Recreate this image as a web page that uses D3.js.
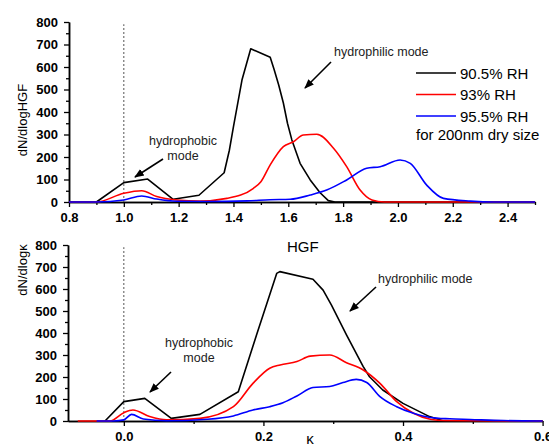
<!DOCTYPE html>
<html>
<head>
<meta charset="utf-8">
<script src="https://cdn.jsdelivr.net/npm/d3@7"></script>
<style>
    body { margin: 0; background: #fff; }
    svg { font-family: "Liberation Sans", Arial, sans-serif; }
    .axis .domain { stroke: #000; stroke-width: 1.5; }
    .axis line { stroke: #000; stroke-width: 1.3; }
    .axis text { font-size: 13px; font-weight: bold; fill: #000; }
    .note { font-size: 12.5px; fill: #222; }
</style>
</head>
<body>
<svg class="chart" width="549" height="445"></svg>
<script>
// series names
const seriesNames = ["90.5% RH", "93% RH", "95.5% RH"];
const seriesColors = ["#000000", "#ff0000", "#0000ff"];

// top panel: [HGF, dN/dlogHGF]
const hgf905 = [[0.8,0],[0.9,0],[1.0,86],[1.087,102],[1.18,12],[1.274,30],[1.366,130],[1.385,230],[1.40,335],[1.431,542],
    [1.463,681],[1.534,643],[1.548,590],[1.565,520],[1.582,440],[1.597,350],[1.613,276],[1.643,172],[1.68,98],[1.716,41],
    [1.746,6],[1.77,0],[2.5,0]];
const hgf93 = [[0.8,0],[0.9,0],[1.0,39],[1.065,50],[1.12,24],[1.193,9],[1.278,4],[1.376,16],[1.473,61],[1.50,90],
    [1.534,165],[1.582,246],[1.619,268],[1.655,298],[1.704,301],[1.765,239],[1.813,157],[1.862,53],[1.905,9],[1.95,0],[2.5,0]];
const hgf955 = [[0.8,0],[0.9,0],[1.0,9],[1.065,27],[1.12,13],[1.193,3],[1.3,2],[1.45,5],[1.534,10],[1.607,12],
    [1.68,31],[1.74,53],[1.813,98],[1.886,150],[1.935,157],[2.008,187],[2.045,172],[2.105,75],[2.166,16],[2.264,4],[2.35,0],[2.5,0]];

// bottom panel: [kappa, dN/dlogkappa]
const kap905 = [[-0.027,0],[0,88],[0.030,103],[0.068,12],[0.109,30],[0.164,133],[0.19,390],[0.219,671],[0.2235,679],
    [0.271,644],[0.2855,595],[0.2975,527],[0.319,391],[0.343,247],[0.352,201],[0.371,141],[0.40,80],[0.438,20],[0.458,0],[0.6,0]];
const kap93 = [[-0.066,0],[-0.02,0],[0,38],[0.013,50],[0.037,20],[0.061,5],[0.109,12],[0.157,65],[0.185,171],[0.209,240],
    [0.224,255],[0.248,270],[0.267,295],[0.295,300],[0.319,265],[0.343,232],[0.367,171],[0.391,88],[0.415,35],[0.439,8],[0.46,2],[0.6,0]];
const kap955 = [[-0.039,0],[-0.015,0],[0,5],[0.011,30],[0.028,9],[0.061,1],[0.12,8],[0.157,23],[0.185,50],[0.209,65],
    [0.228,83],[0.248,114],[0.271,152],[0.295,157],[0.314,175],[0.333,189],[0.348,175],[0.367,111],[0.391,65],[0.415,35],
    [0.439,16],[0.467,10],[0.496,7],[0.544,2],[0.6,0]];

// ticks
const yTicks = [0, 100, 200, 300, 400, 500, 600, 700, 800];
const yMinorTicks = [50, 150, 250, 350, 450, 550, 650, 750];
const hgfTicks = [0.8, 1.0, 1.2, 1.4, 1.6, 1.8, 2.0, 2.2, 2.4];
const hgfMinorTicks = [0.9, 1.1, 1.3, 1.5, 1.7, 1.9, 2.1, 2.3, 2.5];
const kapTicks = [0.0, 0.2, 0.4, 0.6];
const kapMinorTicks = [0.1, 0.3, 0.5];

const svg = d3.select('.chart');

function drawPanel(opt)
{
    const x = d3.scaleLinear().domain(opt.xDomain).range(opt.xRange);
    const y = d3.scaleLinear().domain([0, 800]).range(opt.yRange);
    const g = svg.append('g');

    // minor ticks first
    g.append('g')
        .attr('class', 'axis')
        .attr('transform', `translate(0, ${opt.yRange[0]})`)
        .call(d3.axisBottom(x).tickValues(opt.minor).tickSize(3).tickSizeOuter(0).tickFormat(''));
    g.append('g')
        .attr('class', 'axis')
        .attr('transform', `translate(${opt.xRange[0]}, 0)`)
        .call(d3.axisLeft(y).tickValues(yMinorTicks).tickSize(3).tickSizeOuter(0).tickFormat(''));

    g.append('g')
        .attr('class', 'axis')
        .attr('transform', `translate(0, ${opt.yRange[0]})`)
        .call(d3.axisBottom(x).tickValues(opt.major).tickSize(5).tickSizeOuter(0)
            .tickPadding(6).tickFormat(d3.format('.1f')));
    g.append('g')
        .attr('class', 'axis')
        .attr('transform', `translate(${opt.xRange[0]}, 0)`)
        .call(d3.axisLeft(y).tickValues(yTicks).tickSize(5).tickSizeOuter(0).tickPadding(6));

    // dotted reference line
    g.append('line')
        .attr('x1', x(opt.refX)).attr('x2', x(opt.refX))
        .attr('y1', y(0)).attr('y2', y(790))
        .attr('stroke', '#555')
        .attr('stroke-width', 1)
        .attr('stroke-dasharray', '2,2');

    const smooth = d3.line()
        .x(d => x(d[0]))
        .y(d => y(d[1]))
        .curve(d3.curveMonotoneX);
    const straight = d3.line()
        .x(d => x(d[0]))
        .y(d => y(d[1]));

    opt.series.forEach((s, i) => {
        g.append('path')
            .datum(s)
            .attr('fill', 'none')
            .attr('stroke', seriesColors[i])
            .attr('stroke-width', 1.6)
            .attr('stroke-linejoin', 'round')
            .attr('d', i == 0 ? straight : smooth);
    });

    // y label
    g.append('text')
        .attr('transform', `translate(${opt.yLabelX}, ${opt.yLabelY}) rotate(-90)`)
        .attr('text-anchor', 'middle')
        .style('font-size', '13px')
        .text(opt.yLabel);

    return { x: x, y: y, g: g };
}

function arrow(x1, y1, x2, y2)
{
    svg.append('line')
        .attr('x1', x1).attr('y1', y1)
        .attr('x2', x2).attr('y2', y2)
        .attr('stroke', '#000')
        .attr('stroke-width', 1.6)
        .attr('marker-end', 'url(#head)');
}

svg.append('defs').append('marker')
    .attr('id', 'head')
    .attr('viewBox', '0 0 10 10')
    .attr('refX', 9).attr('refY', 5)
    .attr('markerWidth', 6).attr('markerHeight', 6)
    .attr('orient', 'auto')
    .append('path')
    .attr('d', 'M0,1 L10,5 L0,9 Z')
    .attr('fill', '#000');

drawPanel({
    xDomain: [0.8, 2.5], xRange: [69, 535], yRange: [202, 22],
    major: hgfTicks, minor: hgfMinorTicks, refX: 1.0,
    series: [hgf905, hgf93, hgf955],
    yLabel: 'dN/dlogHGF', yLabelX: 27, yLabelY: 120
});

drawPanel({
    xDomain: [-0.08, 0.6], xRange: [68, 542.6], yRange: [421, 245],
    major: kapTicks, minor: kapMinorTicks, refX: 0.0,
    series: [kap905, kap93, kap955],
    yLabel: 'dN/dlogκ', yLabelX: 27, yLabelY: 270
});

// legend
const legend = svg.append('g').attr('transform', 'translate(416, 73)');
seriesNames.forEach((name, i) => {
    legend.append('line')
        .attr('x1', 0).attr('x2', 40)
        .attr('y1', i * 21.5).attr('y2', i * 21.5)
        .attr('stroke', seriesColors[i])
        .attr('stroke-width', 1.6);
    legend.append('text')
        .attr('x', 44).attr('y', i * 21.5 + 5.5)
        .style('font-size', '15px')
        .text(name);
});
legend.append('text')
    .attr('x', 0).attr('y', 3 * 21.5 + 2)
    .style('font-size', '15px')
    .text('for 200nm dry size');

// annotations
svg.append('text').attr('class', 'note').attr('x', 183).attr('y', 145).attr('text-anchor', 'middle').text('hydrophobic');
svg.append('text').attr('class', 'note').attr('x', 183).attr('y', 160).attr('text-anchor', 'middle').text('mode');
arrow(163, 159, 135, 177);
svg.append('text').attr('class', 'note').attr('x', 334).attr('y', 56).text('hydrophilic mode');
arrow(331, 62, 305, 88);

svg.append('text').attr('class', 'note').attr('x', 199).attr('y', 347).attr('text-anchor', 'middle').text('hydrophobic');
svg.append('text').attr('class', 'note').attr('x', 199).attr('y', 362).attr('text-anchor', 'middle').text('mode');
arrow(171, 372, 150, 392);
svg.append('text').attr('class', 'note').attr('x', 378).attr('y', 283).text('hydrophilic mode');
arrow(376, 287, 350, 311);

// axis titles
svg.append('text').attr('x', 287).attr('y', 252).style('font-size', '15px').text('HGF');
svg.append('text').attr('x', 310).attr('y', 444).attr('text-anchor', 'middle').style('font-size', '15px').text('κ');
</script>
</body>
</html>
